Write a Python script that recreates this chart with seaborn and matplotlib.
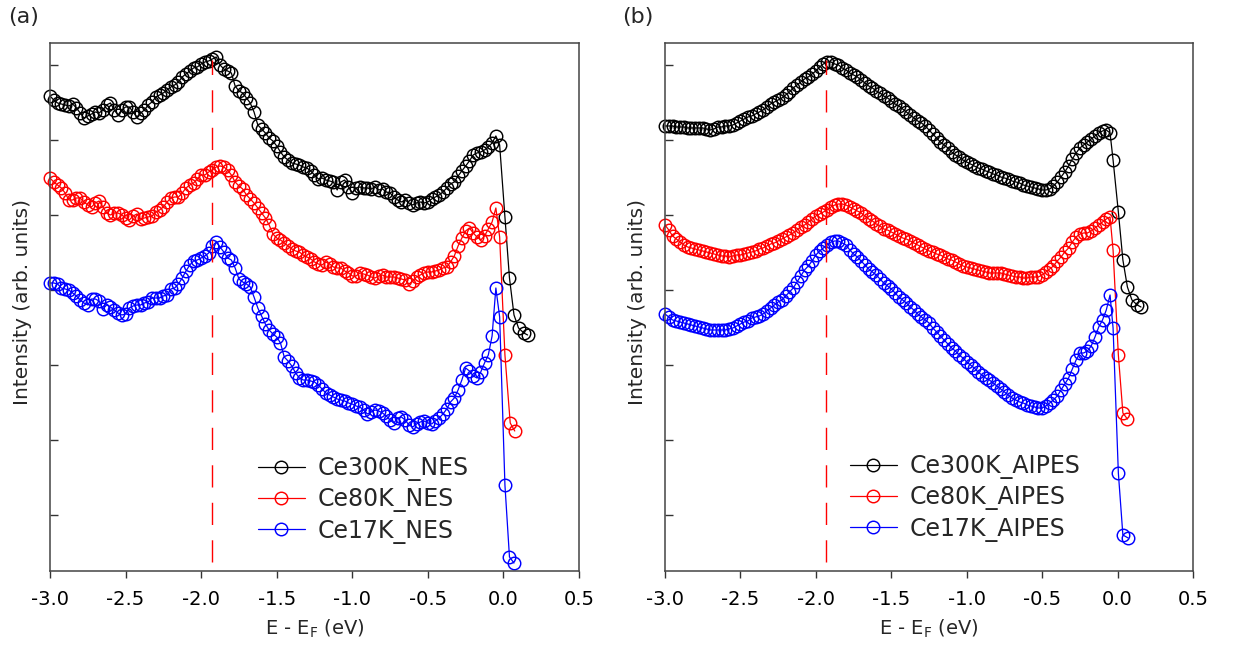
import numpy as np
import pandas as pd
import matplotlib
matplotlib.use("Agg")
import matplotlib.pyplot as plt
import seaborn as sns

# ==============================
# DATA (intensity in arb. units, curves already offset)
# ==============================
# common energy grid from -3.0 to -0.05 eV, 0.025 eV step
energy_grid = np.round(np.arange(119) * 0.025 - 3.0, 3)

# ---- (a) NES ----
ce300k_nes = [
    494, 490, 487, 486, 485, 484, 486, 482, 477, 472,
    474, 476, 478, 477, 480, 485, 487, 480, 475, 480,
    483, 483, 478, 473, 477, 480, 485, 488, 493, 495,
    497, 500, 503, 505, 508, 513, 516, 519, 522, 523,
    526, 528, 529, 531, 533, 525, 521, 519, 517, 504,
    499, 497, 492, 487, 478, 465, 461, 457, 452, 449,
    444, 438, 433, 430, 427, 426, 425, 423, 422, 419,
    415, 411, 412, 410, 409, 408, 400, 408, 410, 403,
    397, 402, 403, 402, 402, 401, 403, 400, 401, 398,
    397, 393, 390, 388, 390, 387, 385, 387, 388, 387,
    388, 391, 393, 395, 398, 402, 406, 408, 414, 419,
    424, 429, 435, 437, 438, 440, 443, 447, 454,
]
ce300k_nes_edge_e = [-0.025, 0.01, 0.04, 0.07, 0.10, 0.135, 0.16]
ce300k_nes_edge = [445, 373, 312, 275, 262, 257, 255]

ce80k_nes = [
    412, 408, 405, 402, 397, 390, 390, 392, 392, 388,
    385, 383, 387, 389, 383, 377, 375, 377, 377, 375,
    372, 370, 374, 376, 371, 372, 373, 374, 378, 380,
    383, 388, 392, 393, 393, 397, 402, 405, 407, 411,
    415, 415, 418, 420, 423, 424, 423, 420, 415, 408,
    404, 401, 395, 391, 387, 382, 377, 372, 365, 356,
    352, 350, 347, 344, 341, 339, 338, 335, 333, 331,
    328, 326, 325, 328, 326, 323, 322, 322, 319, 317,
    314, 314, 317, 316, 315, 313, 312, 314, 315, 313,
    313, 313, 312, 311, 310, 306, 309, 313, 315, 317,
    318, 318, 319, 320, 322, 323, 328, 334, 344, 352,
    359, 362, 357, 353, 350, 354, 361, 368, 382,
]
ce80k_nes_edge_e = [-0.025, 0.01, 0.045, 0.075]
ce80k_nes_edge = [353, 235, 167, 159]

ce17k_nes = [
    307, 307, 306, 302, 301, 300, 297, 294, 290, 287,
    285, 291, 291, 289, 281, 285, 283, 280, 277, 275,
    276, 282, 284, 285, 285, 287, 288, 292, 292, 292,
    294, 295, 301, 302, 306, 312, 319, 325, 329, 330,
    332, 334, 337, 344, 348, 343, 338, 332, 330, 322,
    311, 308, 306, 303, 293, 282, 274, 266, 260, 256,
    253, 247, 233, 229, 224, 217, 212, 210, 210, 209,
    208, 205, 201, 197, 195, 193, 191, 190, 189, 187,
    186, 184, 183, 180, 176, 178, 180, 179, 177, 174,
    170, 167, 172, 173, 170, 165, 163, 166, 168, 169,
    167, 166, 169, 172, 176, 181, 188, 192, 200, 210,
    222, 219, 214, 212, 218, 227, 235, 254, 302,
]
ce17k_nes_edge_e = [-0.025, 0.01, 0.04, 0.07]
ce17k_nes_edge = [273, 105, 33, 27]

# ---- (b) AIPES ----
ce300k_aipes = [
    464, 464, 464, 463, 463, 463, 462, 462, 462, 462,
    462, 461, 460, 461, 463, 463, 464, 464, 465, 467,
    469, 471, 473, 474, 476, 478, 480, 483, 486, 488,
    490, 492, 495, 498, 502, 505, 508, 511, 513, 516,
    519, 523, 526, 528, 528, 526, 525, 522, 520, 517,
    515, 513, 510, 507, 504, 502, 499, 497, 494, 492,
    489, 486, 484, 481, 478, 475, 472, 469, 467, 464,
    460, 456, 452, 448, 445, 442, 438, 435, 433, 430,
    428, 426, 424, 422, 421, 419, 418, 416, 415, 413,
    412, 411, 409, 408, 407, 405, 404, 403, 402, 401,
    400, 400, 401, 404, 408, 413, 418, 424, 431, 437,
    442, 445, 448, 451, 454, 457, 459, 460, 457,
]
ce300k_aipes_edge_e = [-0.03, 0.005, 0.035, 0.065, 0.095, 0.13, 0.155]
ce300k_aipes_edge = [430, 378, 330, 303, 290, 285, 283]

ce80k_aipes = [
    365, 360, 354, 351, 348, 345, 343, 342, 341, 340,
    339, 338, 337, 336, 335, 334, 334, 333, 334, 335,
    335, 336, 337, 338, 339, 341, 342, 344, 346, 347,
    349, 351, 353, 355, 357, 360, 363, 365, 368, 371,
    374, 376, 378, 380, 383, 385, 386, 386, 385, 383,
    381, 379, 377, 374, 371, 369, 366, 364, 361, 360,
    358, 356, 354, 352, 351, 349, 347, 345, 343, 341,
    339, 338, 336, 335, 333, 331, 330, 328, 326, 324,
    323, 322, 321, 320, 319, 318, 317, 317, 317, 317,
    316, 315, 314, 313, 313, 312, 312, 313, 313, 313,
    315, 318, 321, 324, 329, 333, 338, 342, 348, 353,
    356, 357, 357, 359, 362, 365, 368, 371, 373,
]
ce80k_aipes_edge_e = [-0.03, 0.005, 0.035, 0.065]
ce80k_aipes_edge = [340, 235, 177, 171]

ce17k_aipes = [
    276, 273, 270, 269, 268, 267, 266, 265, 264, 263,
    262, 261, 260, 260, 260, 260, 260, 261, 262, 264,
    266, 268, 269, 272, 273, 274, 276, 279, 282, 285,
    288, 290, 294, 298, 302, 308, 314, 320, 324, 329,
    335, 339, 342, 345, 348, 349, 349, 347, 345, 340,
    336, 333, 329, 325, 321, 318, 315, 311, 307, 304,
    301, 297, 293, 290, 287, 283, 280, 276, 273, 270,
    267, 262, 258, 254, 250, 246, 242, 239, 235, 232,
    228, 225, 222, 218, 215, 212, 210, 207, 204, 201,
    198, 195, 192, 190, 188, 187, 185, 184, 183, 182,
    182, 184, 187, 190, 194, 200, 206, 212, 221, 230,
    237, 237, 239, 244, 253, 263, 270, 280, 295,
]
ce17k_aipes_edge_e = [-0.03, 0.005, 0.035, 0.07]
ce17k_aipes_edge = [262, 117, 55, 52]

peak_energy = -1.93
colors = ["black", "#ff0000", "#0000ff"]

panels = {
    "a": [
        ("Ce300K_NES", ce300k_nes, ce300k_nes_edge_e, ce300k_nes_edge),
        ("Ce80K_NES", ce80k_nes, ce80k_nes_edge_e, ce80k_nes_edge),
        ("Ce17K_NES", ce17k_nes, ce17k_nes_edge_e, ce17k_nes_edge),
    ],
    "b": [
        ("Ce300K_AIPES", ce300k_aipes, ce300k_aipes_edge_e, ce300k_aipes_edge),
        ("Ce80K_AIPES", ce80k_aipes, ce80k_aipes_edge_e, ce80k_aipes_edge),
        ("Ce17K_AIPES", ce17k_aipes, ce17k_aipes_edge_e, ce17k_aipes_edge),
    ],
}

# ==============================
# FIGURE
# ==============================
sns.set_style("white")
plt.rcParams["font.family"] = ["DejaVu Sans"]
plt.rcParams["mathtext.fontset"] = "dejavusans"

fig = plt.figure(figsize=(12.34, 6.57), dpi=100)
ax_a = fig.add_axes([0.0405, 0.1309, 0.4287, 0.8037])
ax_b = fig.add_axes([0.5389, 0.1309, 0.4279, 0.8037])

legend_pos = {"a": (0.393, 0.218), "b": (0.350, 0.222)}

for key, ax in [("a", ax_a), ("b", ax_b)]:
    for (name, main, edge_e, edge), col in zip(panels[key], colors):
        df = pd.DataFrame({
            "energy": np.concatenate([energy_grid, edge_e]),
            "intensity": np.concatenate([main, edge]),
        })
        sns.lineplot(
            data=df, x="energy", y="intensity", ax=ax,
            color=col, linewidth=0.9, errorbar=None, label=name,
            marker="o", markersize=9, markerfacecolor="none",
            markeredgecolor=col, markeredgewidth=1.05, clip_on=False,
        )

    ax.vlines(peak_energy, 28, 530, colors="#ff0000", linewidth=1.0,
              linestyles=(0, (16, 11)))

    ax.set_xlim(-3.0, 0.5)
    ax.set_ylim(19, 547)
    ax.set_xticks(np.arange(-3.0, 0.51, 0.5))
    ax.set_xticklabels([f"{v:.1f}" for v in np.arange(-3.0, 0.51, 0.5)])
    ax.set_yticks(np.arange(75, 526, 75))
    ax.set_yticklabels([])

    ax.tick_params(axis="x", direction="out", length=5, width=1, pad=9,
                   labelsize=14, bottom=True, top=False, colors="#333333",
                   labelcolor="black")
    ax.tick_params(axis="y", direction="in", length=6, width=1,
                   left=True, right=False, colors="#333333")
    for sp in ax.spines.values():
        sp.set_color("#444444")
        sp.set_linewidth(1.1)

    ax.set_xlabel(r"E - E$_\mathrm{F}$ (eV)", fontsize=14, labelpad=6)
    ax.set_ylabel("Intensity (arb. units)", fontsize=14.5)
    ax.yaxis.set_label_coords(-0.034, 0.51)

    ax.legend(loc="upper left", bbox_to_anchor=legend_pos[key],
              frameon=False, fontsize=17, handlelength=2.0,
              handletextpad=0.55, labelspacing=0.27, borderpad=0,
              borderaxespad=0)

fig.text(8 / 1234, 1 - 17 / 657, "(a)", fontsize=16, va="center", ha="left")
fig.text(622 / 1234, 1 - 17 / 657, "(b)", fontsize=16, va="center", ha="left")

fig.savefig("out.png", dpi=100)
plt.close(fig)
